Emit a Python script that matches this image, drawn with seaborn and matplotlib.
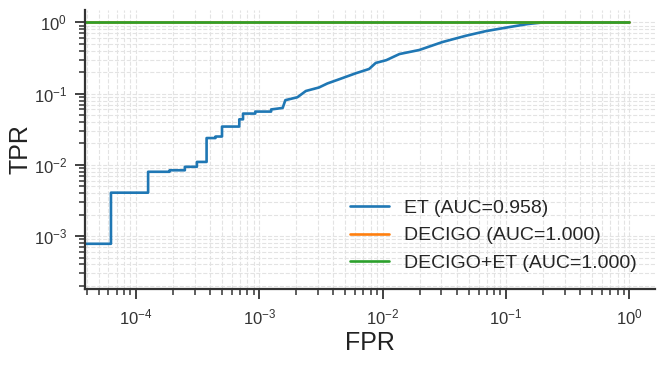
import numpy as np
import pandas as pd
import seaborn as sns
import matplotlib.pyplot as plt

# ROC data (log-log)
ET_FPR = [1e-5, 6.3e-5, 6.3e-5, 1.26e-4, 1.26e-4, 1.88e-4, 1.88e-4, 2.5e-4, 2.5e-4,
          3.13e-4, 3.13e-4, 3.75e-4, 3.75e-4, 4.43e-4, 4.43e-4, 5.0e-4, 5.0e-4,
          6.9e-4, 6.9e-4, 7.4e-4, 7.4e-4, 9.3e-4, 9.3e-4, 1.25e-3, 1.25e-3,
          1.55e-3, 1.63e-3, 2.04e-3, 2.39e-3, 3.05e-3, 3.57e-3, 4.44e-3, 6.05e-3,
          7.77e-3, 8.8e-3, 1.07e-2, 1.37e-2, 1.98e-2, 3.05e-2, 4.73e-2, 6.87e-2,
          0.106, 0.15, 0.2, 1.0]
ET_TPR = [7.8e-4, 7.8e-4, 4.07e-3, 4.07e-3, 8.0e-3, 8.0e-3, 8.4e-3, 8.4e-3, 9.4e-3,
          9.4e-3, 1.1e-2, 1.1e-2, 2.38e-2, 2.38e-2, 2.5e-2, 2.5e-2, 3.45e-2,
          3.45e-2, 4.36e-2, 4.36e-2, 5.25e-2, 5.25e-2, 5.6e-2, 5.6e-2, 6.0e-2,
          6.3e-2, 8.1e-2, 8.9e-2, 0.109, 0.122, 0.139, 0.159, 0.193,
          0.222, 0.27, 0.295, 0.36, 0.41, 0.53, 0.65, 0.755,
          0.86, 0.95, 1.0, 1.0]
DECIGO_FPR = [1e-5, 1.0]
DECIGO_TPR = [1.0, 1.0]
BOTH_FPR = [1e-5, 1.0]
BOTH_TPR = [1.0, 1.0]
LABELS = ['ET (AUC=0.958)', 'DECIGO (AUC=1.000)', 'DECIGO+ET (AUC=1.000)']

sns.set_theme(style="ticks")
plt.rcParams['font.family'] = ['Liberation Sans', 'DejaVu Sans']

df = pd.concat([
    pd.DataFrame({'FPR': ET_FPR, 'TPR': ET_TPR, 'model': LABELS[0]}),
    pd.DataFrame({'FPR': DECIGO_FPR, 'TPR': DECIGO_TPR, 'model': LABELS[1]}),
    pd.DataFrame({'FPR': BOTH_FPR, 'TPR': BOTH_TPR, 'model': LABELS[2]}),
], ignore_index=True)

fig, ax = plt.subplots(figsize=(6.66, 3.66), dpi=100)
ax.set_xscale('log')
ax.set_yscale('log')
sns.lineplot(data=df, x='FPR', y='TPR', hue='model', palette='tab10',
             sort=False, estimator=None, linewidth=1.9, ax=ax)

ax.set_xlim(3.9e-5, 1.6)
ax.set_ylim(1.8e-4, 1.5)
ax.grid(True, which='both', linestyle='--', color='#e3e3e3', linewidth=0.8)
ax.set_axisbelow(True)

ax.tick_params(which='major', length=7, width=1.3, pad=6, labelsize=12, colors='#333333')
ax.tick_params(which='minor', length=4, width=1.1, colors='#333333')
for s in ax.spines.values():
    s.set_linewidth(1.6)
    s.set_color('#333333')
sns.despine(ax=ax)

ax.set_xlabel('FPR', fontsize=18, color='#222222', labelpad=3)
ax.set_ylabel('TPR', fontsize=18, color='#222222', labelpad=1)
ax.legend(title=None, frameon=False, fontsize=14, loc='lower right')

fig.subplots_adjust(left=0.128, right=0.983, bottom=0.21, top=0.973)
fig.savefig('out.png', dpi=100)
